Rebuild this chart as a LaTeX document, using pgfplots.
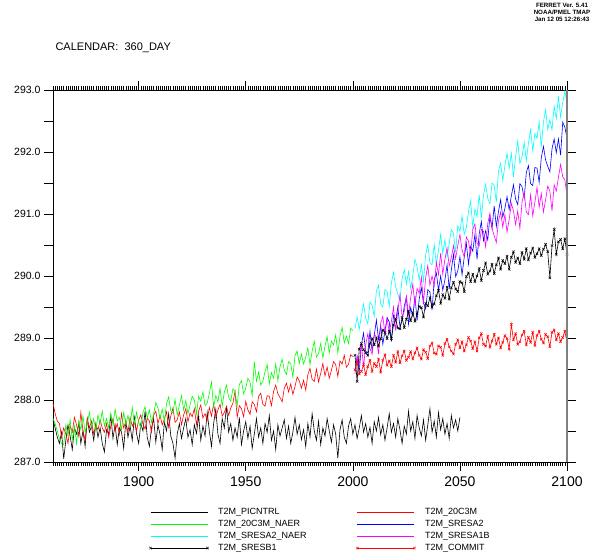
\documentclass[border=0pt]{standalone}
\usepackage{fontspec}
\setmainfont{Liberation Sans}
\usepackage{pgfplots}
\usepackage{pgfplotstable}
\pgfplotsset{compat=1.18}

\definecolor{ferretgreen}{rgb}{0,1,0}
\definecolor{ferretcyan}{rgb}{0,1,1}
\definecolor{ferretmagenta}{rgb}{1,0,1}

% 20th century runs: year, T2M_20C3M, T2M_20C3M_NAER
\pgfplotstableread{
year c20 naer
1860 287.95 287.70
1861 287.78 287.62
1862 287.66 287.50
1863 287.62 287.38
1864 287.40 287.30
1865 287.55 287.28
1866 287.45 287.60
1867 287.30 287.42
1868 287.58 287.68
1869 287.48 287.35
1870 287.72 287.58
1871 287.60 287.30
1872 287.42 287.66
1873 287.80 287.52
1874 287.50 287.74
1875 287.35 287.48
1876 287.70 287.62
1877 287.55 287.80
1878 287.66 287.56
1879 287.45 287.70
1880 287.60 287.50
1881 287.52 287.76
1882 287.68 287.62
1883 287.55 287.82
1884 287.48 287.58
1885 287.62 287.70
1886 287.40 287.55
1887 287.58 287.78
1888 287.70 287.60
1889 287.50 287.85
1890 287.62 287.66
1891 287.45 287.72
1892 287.78 287.52
1893 287.55 287.80
1894 287.65 287.60
1895 287.48 287.75
1896 287.72 287.58
1897 287.58 287.88
1898 287.66 287.62
1899 287.50 287.80
1900 287.68 287.64
1901 287.76 287.55
1902 287.61 287.80
1903 287.53 287.89
1904 287.71 287.71
1905 287.66 287.84
1906 287.48 287.64
1907 287.76 287.78
1908 287.82 287.96
1909 287.62 287.87
1910 287.75 287.71
1911 287.60 287.85
1912 287.69 287.65
1913 287.81 287.94
1914 287.56 288.05
1915 287.74 287.82
1916 287.87 287.79
1917 287.64 288.01
1918 287.68 287.76
1919 287.81 287.91
1920 287.60 288.07
1921 287.76 287.84
1922 287.86 287.99
1923 287.65 287.78
1924 287.79 287.92
1925 287.73 288.06
1926 287.86 288.00
1927 287.60 287.77
1928 287.82 288.06
1929 287.92 287.98
1930 287.71 288.13
1931 287.78 287.91
1932 287.67 287.95
1933 287.88 288.11
1934 287.74 288.29
1935 287.94 287.89
1936 287.72 288.07
1937 287.84 287.97
1938 287.93 288.19
1939 287.74 287.90
1940 287.80 288.13
1941 287.90 288.24
1942 287.75 288.05
1943 287.87 287.98
1944 287.95 288.18
1945 288.14 288.14
1946 287.72 287.91
1947 287.91 288.25
1948 287.86 288.31
1949 287.73 288.10
1950 287.98 288.19
1951 287.84 288.35
1952 287.77 288.29
1953 287.97 288.07
1954 287.93 288.62
1955 287.81 288.30
1956 288.06 288.45
1957 288.11 288.24
1958 287.93 288.30
1959 287.90 288.46
1960 288.07 288.57
1961 288.06 288.26
1962 287.91 288.44
1963 288.14 288.35
1964 288.24 288.58
1965 288.10 288.31
1966 288.04 288.54
1967 287.97 288.66
1968 288.19 288.48
1969 288.27 288.41
1970 288.13 288.62
1971 288.26 288.59
1972 288.09 288.37
1973 288.22 288.72
1974 288.37 288.79
1975 288.31 288.59
1976 288.19 288.74
1977 288.32 288.58
1978 288.16 288.69
1979 288.41 288.84
1980 288.51 288.57
1981 288.33 288.79
1982 288.30 288.95
1983 288.50 288.69
1984 288.29 288.75
1985 288.43 288.91
1986 288.59 288.68
1987 288.39 288.87
1988 288.53 289.02
1989 288.35 288.76
1990 288.48 288.95
1991 288.62 288.89
1992 288.57 289.05
1993 288.38 288.76
1994 288.63 289.03
1995 288.58 289.17
1996 288.72 288.92
1997 288.53 289.03
1998 288.58 288.91
1999 288.73 289.16
2000 288.70 289.12
}\hist

% scenario runs: year, SRESA2_NAER, SRESA2, SRESA1B, SRESB1, COMMIT
\pgfplotstableread{
year a2n a2 a1b b1 com
2001 289.15 288.46 288.42 288.72 288.49
2002 289.34 288.70 288.70 288.30 288.61
2003 289.14 288.45 288.58 288.82 288.42
2004 289.36 288.89 288.91 288.91 288.46
2005 289.55 289.08 288.53 288.81 288.57
2006 289.32 288.78 288.89 288.76 288.41
2007 289.23 288.76 289.07 288.72 288.54
2008 289.58 289.11 288.83 288.91 288.64
2009 289.53 288.79 288.74 288.99 288.46
2010 289.35 289.04 289.06 288.89 288.59
2011 289.76 289.29 289.02 289.00 288.54
2012 289.85 288.97 288.74 288.87 288.66
2013 289.55 289.20 289.24 288.99 288.45
2014 289.50 288.90 289.35 289.13 288.64
2015 289.78 289.11 289.07 289.09 288.73
2016 289.75 289.33 289.31 288.99 288.56
2017 289.51 289.26 289.09 289.11 288.63
2018 289.89 288.94 289.27 288.99 288.54
2019 290.06 289.37 289.50 289.21 288.72
2020 289.82 289.27 289.12 289.31 288.61
2021 289.71 289.50 289.44 289.16 288.78
2022 289.60 289.18 289.70 289.15 288.60
2023 289.96 289.27 289.34 289.33 288.71
2024 290.10 289.51 289.43 289.17 288.79
2025 289.87 289.66 289.67 289.30 288.64
2026 290.07 289.22 289.37 289.43 288.69
2027 289.80 289.49 289.65 289.28 288.78
2028 290.00 289.35 289.87 289.41 288.66
2029 290.27 289.68 289.52 289.27 288.76
2030 290.15 289.28 289.80 289.39 288.84
2031 289.94 289.63 289.72 289.51 288.72
2032 290.18 289.81 289.98 289.49 288.66
2033 289.91 289.56 289.57 289.34 288.81
2034 290.34 289.47 289.97 289.56 288.77
2035 290.51 289.78 290.17 289.52 288.67
2036 290.21 289.74 289.85 289.65 288.87
2037 290.18 289.45 290.00 289.50 288.92
2038 290.51 289.94 289.84 289.55 288.76
2039 290.18 290.05 290.22 289.68 288.74
2040 290.42 289.77 290.02 289.77 288.87
2041 290.67 290.00 290.37 289.56 288.85
2042 290.36 289.77 290.03 289.70 288.72
2043 290.59 289.94 290.27 289.64 288.91
2044 290.31 290.18 290.45 289.82 288.98
2045 290.52 289.79 290.16 289.63 288.86
2046 290.75 290.10 290.30 289.81 288.79
2047 290.68 290.35 290.49 289.90 288.74
2048 290.38 289.99 290.28 289.79 288.90
2049 290.81 290.08 290.49 289.75 288.97
2050 290.72 290.31 290.67 289.91 288.84
2051 290.97 290.02 290.42 289.89 288.94
2052 290.67 290.30 290.31 289.75 288.79
2053 290.78 290.53 290.63 289.99 288.89
2054 291.04 290.19 290.56 290.05 289.01
2055 291.21 290.48 290.35 289.91 288.95
2056 290.79 290.40 290.75 290.03 288.83
2057 291.08 290.67 290.84 289.91 288.94
2058 290.96 290.27 290.53 290.00 288.79
2059 291.31 290.68 290.48 290.12 289.00
2060 290.93 290.88 290.75 289.93 289.07
2061 291.30 290.57 290.72 290.09 288.90
2062 291.48 290.73 290.47 290.21 288.87
2063 291.25 290.58 290.85 290.03 289.03
2064 291.17 290.96 291.01 290.08 288.85
2065 291.50 290.77 290.77 290.19 288.95
2066 291.46 291.13 290.65 290.04 289.06
2067 291.19 290.80 290.54 290.18 288.90
2068 291.69 291.04 290.89 290.29 289.00
2069 291.82 291.23 291.03 290.11 288.84
2070 291.54 290.95 290.79 290.25 288.93
2071 291.78 291.09 290.99 290.20 289.04
2072 291.98 291.28 290.71 290.32 288.99
2073 291.74 291.07 290.91 290.11 288.82
2074 291.98 291.29 291.17 290.30 289.22
2075 291.60 291.47 291.05 290.39 288.97
2076 291.92 291.24 290.83 290.22 289.07
2077 292.18 291.15 291.05 290.29 288.90
2078 291.82 291.49 290.77 290.20 288.94
2079 291.92 291.44 291.19 290.38 289.05
2080 292.16 291.25 291.35 290.27 289.11
2081 291.86 291.67 291.03 290.44 288.89
2082 292.14 291.78 290.99 290.26 289.01
2083 292.36 291.49 291.31 290.37 288.93
2084 292.02 291.46 290.97 290.45 289.09
2085 292.30 291.75 291.19 290.30 288.88
2086 292.22 291.74 291.43 290.36 289.04
2087 292.48 291.51 291.11 290.44 289.11
2088 292.08 291.91 291.33 290.33 288.98
2089 292.48 292.09 291.03 290.43 288.92
2090 292.68 291.87 291.23 290.51 289.06
2091 292.36 291.77 291.45 290.39 289.02
2092 292.52 291.68 291.37 289.97 288.86
2093 292.36 292.05 291.05 290.49 289.09
2094 292.74 292.21 291.47 290.75 289.13
2095 292.54 291.99 291.37 290.35 288.97
2096 292.90 292.21 291.59 290.55 289.07
2097 292.56 291.95 291.80 290.59 288.94
2098 292.80 292.48 291.60 290.44 289.01
2099 292.98 292.40 291.55 290.60 289.11
2100 292.78 292.22 291.30 290.35 288.92
}\fut

\begin{document}
\begin{tikzpicture}
\useasboundingbox (0,0) rectangle (597pt,554pt);

\node[anchor=west, font=\fontsize{11}{13}\selectfont] at (52pt,506pt) {CALENDAR:\ \ 360\_DAY};
\node[align=center, font=\fontsize{6.2}{7.1}\selectfont\bfseries, inner sep=0pt, anchor=north] at (562pt,551pt)
  {FERRET Ver. 5.41\\NOAA/PMEL TMAP\\Jan 12 05 12:26:43};

\begin{axis}[
    scale only axis, width=514pt, height=372pt,
    at={(53pt,92pt)}, anchor=south west,
    xmin=1860, xmax=2100, ymin=287, ymax=293,
    xtick={1900,1950,2000,2050,2100},
    xticklabels={1900,1950,2000,2050,2100},
    minor xtick={1860,1861,...,2100},
    ytick={287,287.5,...,293},
    yticklabels={287.0,,288.0,,289.0,,290.0,,291.0,,292.0,,293.0},
    tick align=outside,
    major tick length=9pt, minor tick length=4pt,
    every tick/.style={black, line width=0.6pt},
    xticklabel style={font=\fontsize{14}{16}\selectfont, yshift=-2pt},
    yticklabel style={font=\fontsize{10.5}{12}\selectfont},
    axis line style={line width=0.7pt},
    /pgf/number format/assume math mode=true,
    every axis plot/.append style={line width=0.6pt},
    legend columns=2,
    legend cell align=left,
    legend image code/.code={\draw[#1] plot coordinates {(0pt,0pt) (57pt,0pt)};},
    legend style={draw=none, fill=none, inner sep=0pt,
        at={(0.187,-0.118)}, anchor=north west,
        font=\fontsize{9}{10}\selectfont,
        nodes={inner sep=1.5pt, text height=7pt, text depth=2pt},
        /tikz/every odd column/.style={column sep=8pt},
        /tikz/every even column/.style={column sep=48pt}},
    after end axis/.code={\draw[gray, line width=1.8pt] (rel axis cs:1,0) -- (rel axis cs:1,1);},
]
\addplot[black] coordinates {
(1860,287.68) (1861,287.55) (1862,287.40) (1863,287.30) (1864,287.48) (1865,287.05) (1866,287.35) (1867,287.60) (1868,287.42) (1869,287.20)
(1870,287.55) (1871,287.45) (1872,287.62) (1873,287.30) (1874,287.50) (1875,287.25) (1876,287.70) (1877,287.48) (1878,287.58) (1879,287.35)
(1880,287.62) (1881,287.40) (1882,287.55) (1883,287.30) (1884,287.16) (1885,287.52) (1886,287.45) (1887,287.75) (1888,287.38) (1889,287.60)
(1890,287.28) (1891,287.55) (1892,287.48) (1893,287.22) (1894,287.66) (1895,287.40) (1896,287.58) (1897,287.35) (1898,287.72) (1899,287.46)
(1900,287.30) (1901,287.62) (1902,287.50) (1903,287.82) (1904,287.40) (1905,287.25) (1906,287.55) (1907,287.70) (1908,287.32) (1909,287.60)
(1910,287.44) (1911,287.20) (1912,287.65) (1913,287.50) (1914,287.78) (1915,287.42) (1916,287.30) (1917,287.06) (1918,287.45) (1919,287.62)
(1920,287.38) (1921,287.55) (1922,287.70) (1923,287.40) (1924,287.52) (1925,287.28) (1926,287.60) (1927,287.46) (1928,287.75) (1929,287.35)
(1930,287.58) (1931,287.42) (1932,287.80) (1933,287.50) (1934,287.25) (1935,287.62) (1936,287.85) (1937,287.45) (1938,287.30) (1939,287.70)
(1940,287.55) (1941,287.90) (1942,287.48) (1943,287.62) (1944,287.35) (1945,287.55) (1946,287.40) (1947,287.72) (1948,287.28) (1949,287.50)
(1950,287.65) (1951,287.38) (1952,287.58) (1953,287.22) (1954,287.45) (1955,287.70) (1956,287.40) (1957,287.55) (1958,287.30) (1959,287.62)
(1960,287.48) (1961,287.75) (1962,287.35) (1963,287.50) (1964,287.20) (1965,287.60) (1966,287.42) (1967,287.55) (1968,287.68) (1969,287.38)
(1970,287.58) (1971,287.30) (1972,287.48) (1973,287.72) (1974,287.45) (1975,287.60) (1976,287.36) (1977,287.52) (1978,287.25) (1979,287.62)
(1980,287.40) (1981,287.78) (1982,287.50) (1983,287.35) (1984,287.66) (1985,287.28) (1986,287.55) (1987,287.42) (1988,287.70) (1989,287.50)
(1990,287.32) (1991,287.60) (1992,287.45) (1993,287.06) (1994,287.52) (1995,287.68) (1996,287.40) (1997,287.30) (1998,287.58) (1999,287.70)
(2000,287.45) (2001,287.60) (2002,287.38) (2003,287.55) (2004,287.75) (2005,287.48) (2006,287.62) (2007,287.40) (2008,287.56) (2009,287.30)
(2010,287.65) (2011,287.50) (2012,287.72) (2013,287.44) (2014,287.60) (2015,287.35) (2016,287.55) (2017,287.78) (2018,287.48) (2019,287.62)
(2020,287.40) (2021,287.70) (2022,287.52) (2023,287.30) (2024,287.58) (2025,287.45) (2026,287.82) (2027,287.50) (2028,287.65) (2029,287.38)
(2030,287.75) (2031,287.55) (2032,287.42) (2033,287.68) (2034,287.35) (2035,287.60) (2036,287.86) (2037,287.48) (2038,287.66) (2039,287.40)
(2040,287.80) (2041,287.52) (2042,287.70) (2043,287.45) (2044,287.62) (2045,287.38) (2046,287.75) (2047,287.55) (2048,287.68) (2049,287.50)
(2050,287.72)
};
\addlegendentry{T2M\_PICNTRL}
\addplot[red] table[x=year, y=c20] {\hist};
\addlegendentry{T2M\_20C3M}
\addplot[ferretgreen] table[x=year, y=naer] {\hist};
\addlegendentry{T2M\_20C3M\_NAER}
\addplot[blue] table[x=year, y=a2] {\fut};
\addlegendentry{T2M\_SRESA2}
\addplot[ferretcyan] table[x=year, y=a2n] {\fut};
\addlegendentry{T2M\_SRESA2\_NAER}
\addplot[ferretmagenta] table[x=year, y=a1b] {\fut};
\addlegendentry{T2M\_SRESA1B}
\addplot[black, mark=x, mark size=1.7pt, mark options={line width=0.5pt}] table[x=year, y=b1] {\fut};
\addlegendentry{T2M\_SRESB1}
\addplot[red, mark=x, mark size=1.7pt, mark options={line width=0.5pt}] table[x=year, y=com] {\fut};
\addlegendentry{T2M\_COMMIT}
\end{axis}
\end{tikzpicture}
\end{document}
